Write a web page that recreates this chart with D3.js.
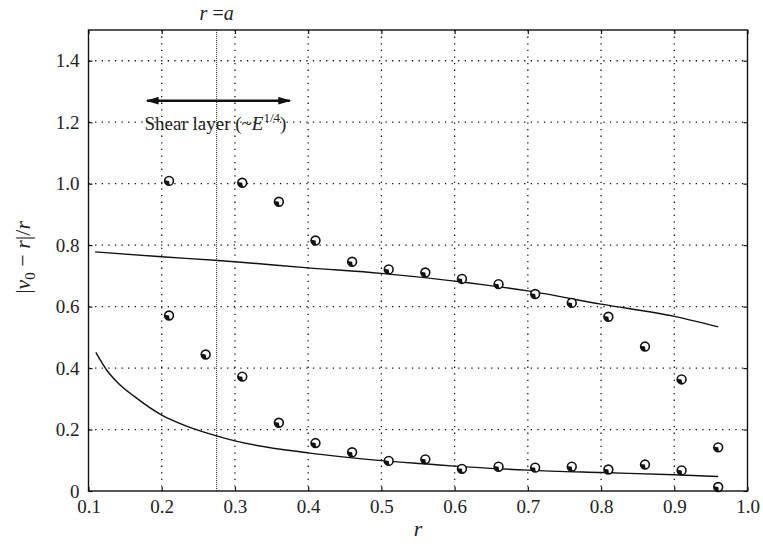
<!DOCTYPE html>
<html>
<head>
<meta charset="utf-8">
<script src="https://cdn.jsdelivr.net/npm/d3@7"></script>
<style>
  body { margin: 0; background: #fff; }
  svg { display: block; font-family: "Liberation Serif", "DejaVu Serif", serif; }
  .tick-label { font-size: 19px; fill: #222; }
</style>
</head>
<body>
<div id="chart"></div>
<script>
const markerR = [0.21, 0.21, 0.26, 0.31, 0.31, 0.36, 0.36, 0.41, 0.41, 0.46, 0.46, 0.51, 0.51, 0.56, 0.56,
  0.61, 0.61, 0.66, 0.66, 0.71, 0.71, 0.76, 0.76, 0.81, 0.81, 0.86, 0.86, 0.91, 0.91, 0.96, 0.96];
const markerV = [1.009, 0.571, 0.444, 1.003, 0.372, 0.941, 0.222, 0.815, 0.156, 0.746, 0.126, 0.721, 0.098, 0.711, 0.103,
  0.690, 0.072, 0.673, 0.079, 0.641, 0.076, 0.612, 0.079, 0.567, 0.070, 0.470, 0.086, 0.363, 0.067, 0.142, 0.013];

// Upper theory curve
const upperCurveR = [0.109, 0.2, 0.2725, 0.3, 0.4, 0.5, 0.6, 0.7, 0.8, 0.9, 0.96];
const upperCurveV = [0.778, 0.762, 0.751, 0.746, 0.726, 0.708, 0.683, 0.651, 0.608, 0.568, 0.534];

// Lower theory curve
const lowerCurveR = [0.11, 0.125, 0.141, 0.163, 0.2, 0.232, 0.2725, 0.3, 0.4, 0.5, 0.567, 0.6, 0.7, 0.8, 0.9, 0.96];
const lowerCurveV = [0.451, 0.393, 0.35, 0.307, 0.247, 0.213, 0.181, 0.163, 0.124, 0.099, 0.087, 0.081, 0.068, 0.060, 0.053, 0.047];

// Ticks and annotations
const xTicks = [0.1, 0.2, 0.3, 0.4, 0.5, 0.6, 0.7, 0.8, 0.9, 1.0];
const yTicks = [0, 0.2, 0.4, 0.6, 0.8, 1.0, 1.2, 1.4];
const rA = 0.275;
const shearLayer = [0.18, 0.375];
const shearLabelY = 1.175;
const arrowY = 1.27;

const W = 763, H = 544;
const plot = { left: 88.5, right: 747.5, top: 30, bottom: 491 };

const x = d3.scaleLinear().domain([0.1, 1.0]).range([plot.left, plot.right]);
const y = d3.scaleLinear().domain([0, 1.5]).range([plot.bottom, plot.top]);

const svg = d3.select("#chart").append("svg").attr("width", W).attr("height", H);

// Grid lines (dotted)
svg.append("g")
  .selectAll("line")
  .data(xTicks.slice(1, -1))
  .join("line")
  .attr("x1", d => x(d)).attr("x2", d => x(d))
  .attr("y1", plot.top).attr("y2", plot.bottom)
  .attr("stroke", "#111").attr("stroke-width", 1.3).attr("stroke-dasharray", "1.3,5.3");

svg.append("g")
  .selectAll("line")
  .data(yTicks.slice(1))
  .join("line")
  .attr("x1", plot.left).attr("x2", plot.right)
  .attr("y1", d => y(d)).attr("y2", d => y(d))
  .attr("stroke", "#111").attr("stroke-width", 1.3).attr("stroke-dasharray", "1.3,5.3");

// r = a line
svg.append("line")
  .attr("x1", x(rA)).attr("x2", x(rA))
  .attr("y1", plot.top).attr("y2", plot.bottom)
  .attr("stroke", "#222").attr("stroke-width", 1).attr("stroke-dasharray", "1,1");

// Axes (ticks point inward, on all four sides)
const tickLen = 4;
function styleAxis(g) {
  g.attr("font-family", null).attr("font-size", null);
  g.select(".domain").remove();
  g.selectAll("text").attr("class", "tick-label").attr("fill", "#222");
}

svg.append("g").attr("transform", `translate(0,${plot.bottom})`)
  .call(d3.axisBottom(x).tickValues(xTicks).tickSizeInner(-tickLen).tickSizeOuter(0).tickPadding(9).tickFormat(d3.format(".1f")))
  .call(styleAxis);

svg.append("g").attr("transform", `translate(${plot.left},0)`)
  .call(d3.axisLeft(y).tickValues(yTicks).tickSizeInner(-tickLen).tickSizeOuter(0).tickPadding(9).tickFormat(d => d === 0 ? "0" : d3.format(".1f")(d)))
  .call(styleAxis);

svg.append("g").attr("transform", `translate(0,${plot.top})`)
  .call(d3.axisTop(x).tickValues(xTicks).tickSizeInner(-tickLen).tickSizeOuter(0).tickFormat(""))
  .call(styleAxis);

svg.append("g").attr("transform", `translate(${plot.right},0)`)
  .call(d3.axisRight(y).tickValues(yTicks).tickSizeInner(-tickLen).tickSizeOuter(0).tickFormat(""))
  .call(styleAxis);

svg.selectAll(".tick line").attr("stroke", "#111").attr("stroke-width", 1.2);

// Frame
svg.append("rect")
  .attr("x", plot.left).attr("y", plot.top)
  .attr("width", plot.right - plot.left).attr("height", plot.bottom - plot.top)
  .attr("fill", "none").attr("stroke", "#111").attr("stroke-width", 1.4);

// Curves
const line = d3.line().x(d => x(d[0])).y(d => y(d[1])).curve(d3.curveMonotoneX);
svg.append("path")
  .attr("d", line(d3.zip(upperCurveR, upperCurveV)))
  .attr("fill", "none").attr("stroke", "#111").attr("stroke-width", 1.4);
svg.append("path")
  .attr("d", line(d3.zip(lowerCurveR, lowerCurveV)))
  .attr("fill", "none").attr("stroke", "#111").attr("stroke-width", 1.4);

// Markers: open circle with a filled lower-left quadrant
const wedge = d3.arc().innerRadius(0).outerRadius(4.4).startAngle(Math.PI * 0.95).endAngle(Math.PI * 1.55);
const markers = svg.append("g")
  .selectAll("g")
  .data(d3.zip(markerR, markerV))
  .join("g")
  .attr("transform", d => `translate(${x(d[0])},${y(d[1])})`);
markers.append("circle").attr("r", 4.4).attr("fill", "#fff").attr("stroke", "#111").attr("stroke-width", 1.6);
markers.append("path").attr("d", wedge).attr("fill", "#111");

// Shear layer arrow
svg.append("defs").append("marker")
  .attr("id", "head").attr("viewBox", "0 0 10 6").attr("refX", 9).attr("refY", 3)
  .attr("markerWidth", 6).attr("markerHeight", 3.2).attr("markerUnits", "strokeWidth")
  .attr("orient", "auto-start-reverse")
  .append("path").attr("d", "M0,0 L10,3 L0,6 Z").attr("fill", "#111");

svg.append("line")
  .attr("x1", x(shearLayer[0])).attr("x2", x(shearLayer[1]))
  .attr("y1", y(arrowY)).attr("y2", y(arrowY))
  .attr("stroke", "#111").attr("stroke-width", 2.4)
  .attr("marker-start", "url(#head)").attr("marker-end", "url(#head)");

const shear = svg.append("text")
  .attr("x", x((shearLayer[0] + shearLayer[1]) / 2) - 3).attr("y", y(shearLabelY))
  .attr("text-anchor", "middle").attr("font-size", 19).attr("fill", "#222");
shear.append("tspan").text("Shear layer (~");
shear.append("tspan").attr("font-style", "italic").text("E");
shear.append("tspan").attr("font-size", 13).attr("dy", -8).text("1/4");
shear.append("tspan").attr("dy", 8).text(")");

// r = a label
const ra = svg.append("text")
  .attr("x", x(rA)).attr("y", 20)
  .attr("text-anchor", "middle").attr("font-size", 20).attr("fill", "#222");
ra.append("tspan").attr("font-style", "italic").text("r");
ra.append("tspan").text(" =");
ra.append("tspan").attr("font-style", "italic").text("a");

// Axis titles
svg.append("text")
  .attr("x", x(0.55)).attr("y", 536)
  .attr("text-anchor", "middle").attr("font-size", 22).attr("font-style", "italic").attr("fill", "#222")
  .text("r");

const yl = svg.append("text")
  .attr("transform", `translate(30,${y(0.76)}) rotate(-90)`)
  .attr("text-anchor", "middle").attr("font-size", 22).attr("fill", "#222");
yl.append("tspan").text("|");
yl.append("tspan").attr("font-style", "italic").text("v");
yl.append("tspan").attr("font-size", 15).attr("dy", 5).text("0");
yl.append("tspan").attr("dy", -5).text(" − ");
yl.append("tspan").attr("font-style", "italic").text("r");
yl.append("tspan").text("|/");
yl.append("tspan").attr("font-style", "italic").text("r");
</script>
</body>
</html>
